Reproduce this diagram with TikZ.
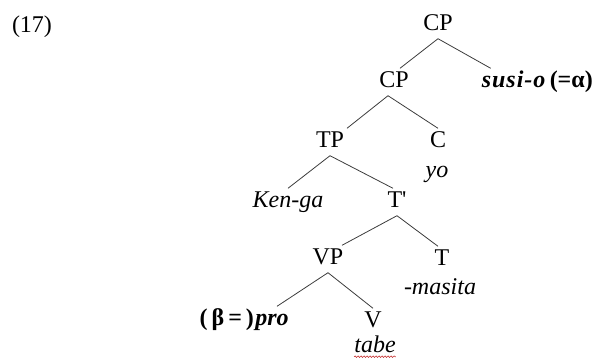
\documentclass[tikz,border=0pt]{standalone}
\usepackage{fontspec}
\setmainfont{Liberation Serif}
\usepackage{tikz}
\usetikzlibrary{positioning,decorations.pathmorphing}
\definecolor{treeline}{RGB}{60,60,60}
\definecolor{spellred}{RGB}{200,60,60}

\begin{document}
\begin{tikzpicture}[x=1pt,y=-1pt, every node/.style={font=\fontsize{24}{28}\selectfont}]
\tikzset{cat/.style={inner sep=3pt,text height=16pt,text depth=5pt},
  branch/.style={draw=treeline,line width=0.8pt}}
\useasboundingbox (0,0) rectangle (594,361);

\node[cat] (ex) at (32,27) {(17)};

\node[cat] (cp1)    at (438,25)  {CP};
\node[cat] (cp2)    at (394,82)  {CP};
\node[cat,anchor=east] (alpha) at (596,82) {\textbf{(=α)}};
\node[cat,left=-3pt of alpha] (susi) {\addfontfeature{LetterSpace=4}\textbf{\textit{susi-o}}};
\node[cat] (tp)     at (330,142) {TP};
\node[cat] (c)      at (438,142) {C};
\node[cat] (yo)     at (437,172) {\textit{yo}};
\node[cat] (kenga)  at (288,202) {\textit{Ken-ga}};
\node[cat] (tbar)   at (397,202) {T\textquotesingle};
\node[cat] (vp)     at (328,259) {VP};
\node[cat] (t)      at (442,260) {T};
\node[cat] (masita) at (440,289) {\textit{-masita}};
\node[cat] (pro)    at (272,320) {\textbf{\textit{pro}}};
\node[cat,left=-5pt of pro] (beta) {\textbf{(\,β\,=\,)}};
\node[cat] (v)      at (373,322) {V};
\node[cat] (tabe)   at (375,347) {\textit{tabe}};

\draw[branch] (cp1.south) -- ([xshift=6pt]cp2.north);
\draw[branch] (cp1.south) -- ([xshift=12pt]susi.north west);
\draw[branch] ([xshift=-6pt]cp2.south) -- ([xshift=17pt]tp.north);
\draw[branch] ([xshift=-6pt]cp2.south) -- (c.north);
\draw[branch] (tp.south) -- (kenga.north);
\draw[branch] (tp.south) -- ([xshift=-4pt]tbar.north);
\draw[branch] (tbar.south) -- ([xshift=14pt]vp.north);
\draw[branch] (tbar.south) -- ([xshift=-4pt]t.north);
\draw[branch] (vp.south) -- ([xshift=5pt]pro.north);
\draw[branch] (vp.south) -- (v.north);

% spell-check underline
\draw[spellred,line width=0.6pt,decorate,decoration={snake,amplitude=0.8pt,segment length=3pt}]
  ([xshift=3pt,yshift=4pt]tabe.south west) -- ([xshift=-3pt,yshift=4pt]tabe.south east);
\end{tikzpicture}
\end{document}
